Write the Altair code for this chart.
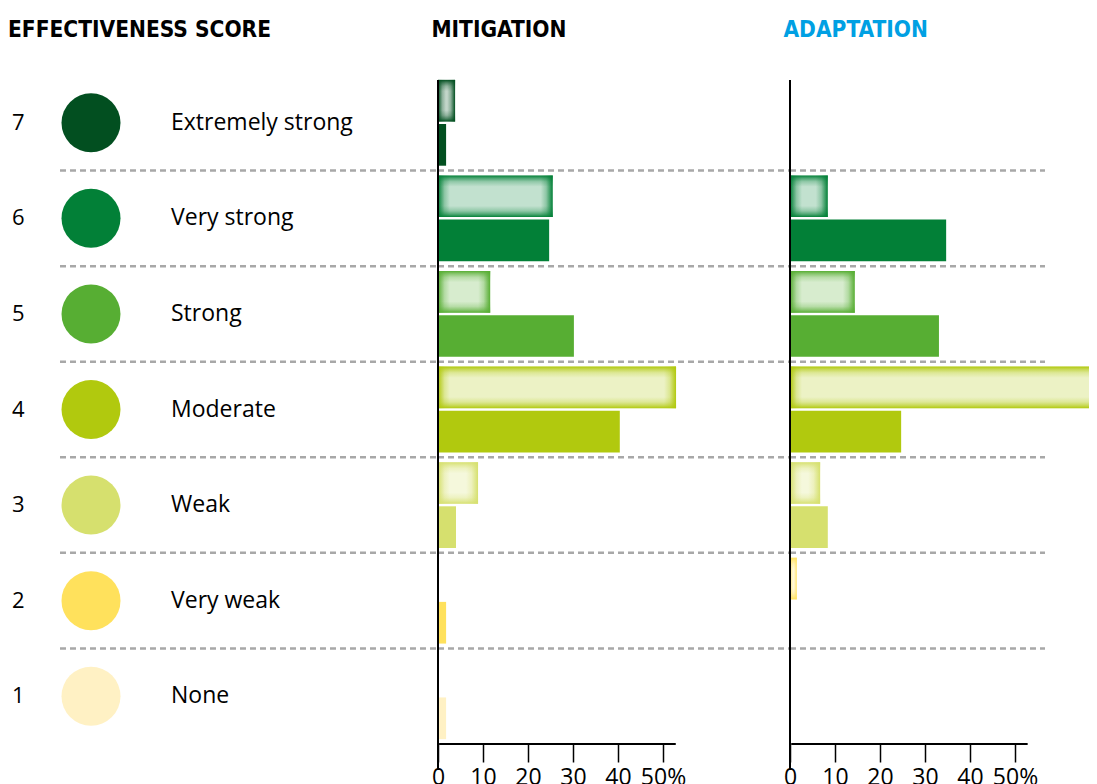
import altair as alt
import pandas as pd

# ---------------- data ----------------
scores = [7, 6, 5, 4, 3, 2, 1]
score_labels = ["Extremely strong", "Very strong", "Strong", "Moderate", "Weak", "Very weak", "None"]
score_colors = ["#024f20", "#028037", "#57ae33", "#b1c90e", "#d6e06e", "#ffe15c", "#fff1c4"]

# percentage of measures per score (top "glow" bar and bottom solid bar)
mit_glow = [3.8, 25.5, 11.6, 52.9, 8.9, None, None]
mit_solid = [1.8, 24.7, 30.2, 40.4, 4.0, 1.8, 1.8]
ada_glow = [None, 8.4, 14.4, 68.0, 6.7, 1.5, None]
ada_solid = [None, 34.7, 33.1, 24.7, 8.4, None, None]

tick_values = [0, 10, 20, 30, 40, 50]

# ---------------- style ----------------
FONT = "Open Sans"
TFONT = "Liberation Sans Narrow, DejaVu Sans Condensed, sans-serif"
TSIZE = 22.5
PX = 4.5          # pixels per percentage point
H = 669           # plot height
DASH = "#a8a8a8"


def hex_rgb(h):
    h = h.lstrip("#")
    return tuple(int(h[i:i + 2], 16) for i in (0, 2, 4))


def mix(h, t):
    r, g, b = hex_rgb(h)
    return "#%02x%02x%02x" % tuple(round(c * t + 255 * (1 - t)) for c in (r, g, b))


def rgba(h, a):
    r, g, b = hex_rgb(h)
    return "rgba(%d,%d,%d,%s)" % (r, g, b, a)


def yscale():
    return alt.Scale(domain=scores, paddingInner=0, paddingOuter=0)


def yenc():
    return alt.Y("score:O", scale=yscale(), axis=None)


def yoff():
    return alt.YOffset("kind:N", scale=alt.Scale(domain=["glow", "solid"], paddingInner=0.056, paddingOuter=0.11))


def dashes(x1, x2):
    return alt.Chart(pd.DataFrame({"score": scores[:-1]})).mark_rule(
        strokeDash=[6, 4], color=DASH, strokeWidth=2.5
    ).encode(
        y=alt.Y("score:O", bandPosition=1, scale=yscale(), axis=None),
        x=x1, x2=x2,
    )


def title(text, color):
    return alt.Title(text, anchor="start", font=TFONT, fontSize=TSIZE, fontWeight="bold",
                     color=color, offset=33.5)


def panel(glow, solid, width, name, name_color, dash_end_px):
    dmax = width / PX
    xs = alt.Scale(domain=[0, dmax], clamp=True, nice=False, zero=True)
    rows = []
    for s, g, v in zip(scores, glow, solid):
        if g is not None:
            rows.append({"score": s, "kind": "glow", "value": g})
        if v is not None:
            rows.append({"score": s, "kind": "solid", "value": v})
    df = pd.DataFrame(rows)

    axis = alt.Axis(values=tick_values, tickSize=18, tickWidth=1.5, tickColor="black",
                    domain=False, grid=False, labelFontSize=23, labelFont=FONT,
                    labelColor="black", labelPadding=4, labelFlush=False, labelOverlap=False,
                    labelExpr="datum.value == 50 ? '50%' : datum.label", title=None)

    layers = [dashes(alt.value(0), alt.value(dash_end_px))]

    solid_layer = alt.Chart(df).transform_filter(alt.datum.kind == "solid").mark_bar().encode(
        x=alt.X("value:Q", scale=xs, axis=axis),
        y=yenc(), yOffset=yoff(),
        color=alt.Color("score:O", scale=alt.Scale(domain=scores, range=score_colors), legend=None),
    )
    layers.append(solid_layer)

    for s, g, c in zip(scores, glow, score_colors):
        if g is None:
            continue
        full_px = g * PX
        vis_px = min(full_px, width)
        f = min(0.46, 12.0 / vis_px)
        light = mix(c, 0.24)
        m1 = mix(c, 0.75)
        m2 = mix(c, 0.45)
        stops = [alt.GradientStop(offset=0, color=c),
                 alt.GradientStop(offset=0.25 * f, color=m1),
                 alt.GradientStop(offset=0.55 * f, color=m2),
                 alt.GradientStop(offset=f, color=light)]
        if full_px > width + 1:
            stops.append(alt.GradientStop(offset=1, color=light))
        else:
            stops += [alt.GradientStop(offset=1 - f, color=light),
                      alt.GradientStop(offset=1 - 0.55 * f, color=m2),
                      alt.GradientStop(offset=1 - 0.25 * f, color=m1),
                      alt.GradientStop(offset=1, color=c)]
        hgrad = alt.Gradient(gradient="linear", x1=0, x2=1, y1=0, y2=0, stops=stops)
        vgrad = alt.Gradient(gradient="linear", x1=0, x2=0, y1=0, y2=1, stops=[
            alt.GradientStop(offset=0, color=rgba(c, 1)),
            alt.GradientStop(offset=0.07, color=rgba(c, 0.6)),
            alt.GradientStop(offset=0.15, color=rgba(c, 0.25)),
            alt.GradientStop(offset=0.27, color=rgba(c, 0)),
            alt.GradientStop(offset=0.73, color=rgba(c, 0)),
            alt.GradientStop(offset=0.85, color=rgba(c, 0.25)),
            alt.GradientStop(offset=0.93, color=rgba(c, 0.6)),
            alt.GradientStop(offset=1, color=rgba(c, 1)),
        ])
        base = alt.Chart(df).transform_filter((alt.datum.kind == "glow") & (alt.datum.score == s))
        enc = dict(x=alt.X("value:Q", scale=xs, axis=axis), y=yenc(), yOffset=yoff())
        layers.append(base.mark_bar(color=hgrad).encode(**enc))
        layers.append(base.mark_bar(color=vgrad).encode(**enc))

    # y axis line (extends below x axis) and x axis line
    layers.append(alt.Chart(df).mark_rule(color="black", strokeWidth=2).encode(
        x=alt.datum(0, scale=xs), y=alt.value(5), y2=alt.value(H + 26)))
    layers.append(alt.Chart(df).mark_rule(color="black", strokeWidth=1.5).encode(
        x=alt.datum(0.4, scale=xs), x2=alt.datum(52.7), y=alt.value(H)))

    return alt.layer(*layers).properties(width=width, height=H, title=title(name, name_color))


# ---------------- legend column ----------------
leg_df = pd.DataFrame({"score": scores, "label": score_labels})
nums = alt.Chart(leg_df).mark_text(align="left", baseline="middle", fontSize=22, font=FONT, color="black").encode(
    x=alt.value(4), y=yenc(), text=alt.Text("score:N"))
circ = alt.Chart(leg_df).mark_circle(size=3481, opacity=1).encode(
    x=alt.value(83), y=yenc(),
    color=alt.Color("score:O", scale=alt.Scale(domain=scores, range=score_colors), legend=None))
labs = alt.Chart(leg_df).mark_text(align="left", baseline="middle", fontSize=23, font=FONT, color="black").encode(
    x=alt.value(163), y=yenc(), text=alt.Text("label:N"))
legend = alt.layer(dashes(alt.value(52), alt.value(430)), circ, nums, labs).properties(
    width=430, height=H, title=title("EFFECTIVENESS SCORE", "black"))

mit = panel(mit_glow, mit_solid, 352, "MITIGATION", "black", 352)
ada = panel(ada_glow, ada_solid, 299, "ADAPTATION", "#00a0e3", 255)

chart = alt.hconcat(legend, mit, ada, spacing=0, bounds="flush").properties(
    padding={"left": 0, "top": 11, "right": 0, "bottom": 0}
).configure_view(stroke=None)

chart.save("out.html", embed_options={"renderer": "svg", "actions": False})
